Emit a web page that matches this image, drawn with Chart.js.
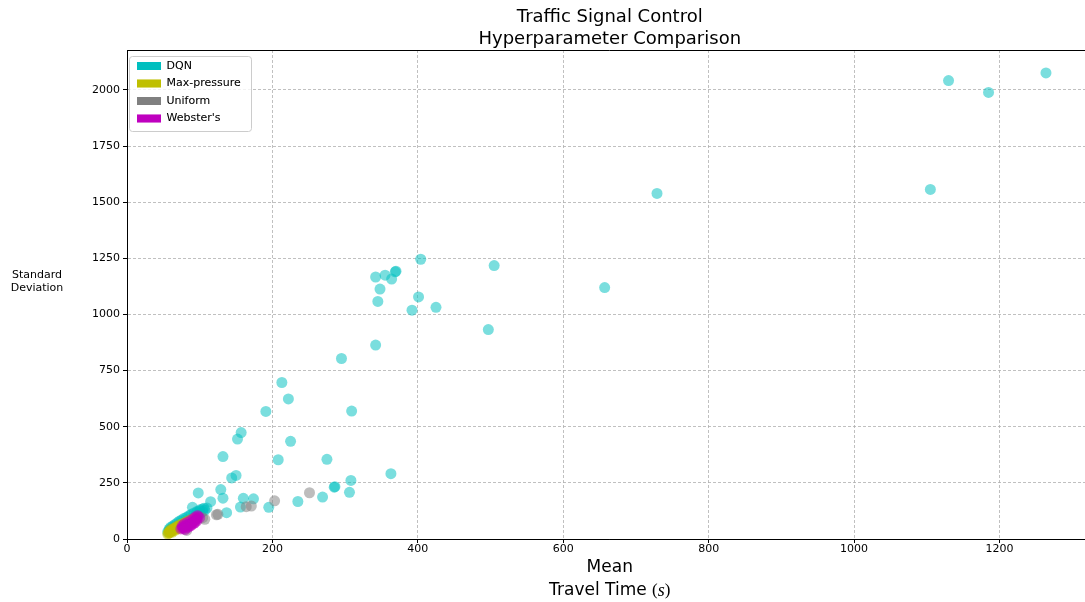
<!DOCTYPE html>
<html>
<head>
<meta charset="utf-8">
<script src="https://cdn.jsdelivr.net/npm/chart.js@4.4.1/dist/chart.umd.min.js"></script>
<style>
  html, body { margin: 0; padding: 0; background: #fff; overflow: hidden; }
  #wrap { width: 1085px; height: 602px; overflow: hidden; }
</style>
</head>
<body>
<div id="wrap"><canvas id="chart" width="1098" height="602"></canvas></div>
<script>
// values (mean travel time, std deviation)
const dqnMean = [1264, 1130, 1185, 1105, 729, 657, 505, 497, 425, 404, 401, 392, 370, 369, 364, 355, 342, 348, 345, 342,
    295, 309, 213, 222, 191, 157, 152, 225, 132, 208, 275, 363, 150, 144, 308, 286, 285, 129, 306, 98,
    132, 160, 174, 269, 235, 115, 90, 156, 195, 137, 106,
    56, 58, 60, 61, 63, 65, 66, 68, 70, 72, 73, 75, 77, 79, 81, 84, 86, 89, 92, 95, 98, 101, 104, 107, 100, 96,
    58, 60, 63, 66, 69, 72, 75, 78, 82, 85, 88, 92, 96, 100, 104, 110];
const dqnStd = [2076, 2042, 1989, 1557, 1539, 1120, 1218, 933, 1032, 1246, 1078, 1019, 1193, 1190, 1158, 1175, 1167, 1113, 1058, 864,
    804, 570, 697, 624, 568, 474, 445, 435, 367, 353, 355, 291, 283, 272, 261, 233, 231, 220, 208, 205,
    182, 181, 179, 187, 167, 166, 141, 142, 141, 117, 137,
    32, 38, 42, 35, 48, 45, 55, 52, 60, 58, 66, 63, 70, 74, 78, 82, 86, 90, 95, 100, 108, 114, 122, 128, 125, 118,
    44, 52, 58, 65, 72, 79, 85, 91, 97, 103, 109, 116, 122, 130, 134, 138];

const maxPressureMean = [56, 57, 58, 59, 60, 62, 63, 65, 67, 68, 70, 72, 74, 76, 78, 80, 82, 85, 88, 90, 93,
    58, 60, 62, 64, 66, 68, 70, 72, 75, 77, 80, 82, 85, 87, 90];
const maxPressureStd = [22, 26, 30, 28, 34, 36, 40, 44, 46, 50, 54, 57, 60, 64, 67, 70, 74, 78, 82, 86, 92,
    34, 42, 30, 48, 38, 56, 45, 63, 52, 70, 60, 78, 68, 86, 78];

const uniformMean = [82, 80, 96, 107, 104, 123, 125, 164, 171, 203, 251];
const uniformStd = [38, 45, 85, 88, 95, 108, 110, 144, 147, 170, 206];

const webstersMean = [74, 76, 77, 78, 80, 81, 82, 84, 85, 86, 88, 89, 90, 92, 93, 95, 96, 98,
    76, 79, 83, 87, 91, 94, 97, 100, 96, 92, 88, 84, 80];
const webstersStd = [45, 50, 55, 48, 58, 52, 62, 60, 66, 57, 70, 65, 75, 80, 72, 88, 92, 100,
    60, 68, 75, 82, 90, 98, 105, 95, 80, 70, 60, 52, 42];

const seriesNames = ['DQN', 'Max-pressure', 'Uniform', "Webster's"];
const seriesColors = ['rgba(0,191,191,0.52)', 'rgba(191,191,0,0.52)', 'rgba(128,128,128,0.52)', 'rgba(191,0,191,0.52)'];
const legendColors = ['#00bfbf', '#bfbf00', '#808080', '#bf00bf'];

const titleLines = ['Traffic Signal Control', 'Hyperparameter Comparison'];
const xLabelTop = 'Mean';
const xLabelBottom = 'Travel Time ';
const xLabelUnit = 's';
const yLabelLines = ['Standard', 'Deviation'];

const xMax = 1328, xStep = 200;
const yMax = 2178, yStep = 250;

function toPoints(xs, ys) {
    return xs.map((x, i) => ({ x: x, y: ys[i] }));
}

const allSeries = [
    toPoints(dqnMean, dqnStd),
    toPoints(maxPressureMean, maxPressureStd),
    toPoints(uniformMean, uniformStd),
    toPoints(webstersMean, webstersStd)
];

Chart.defaults.font.family = '"DejaVu Sans", sans-serif';
Chart.defaults.color = '#000';

const LEGEND_PAD = 6.5;

// legend frame, top spine, axis labels
const extrasPlugin = {
    id: 'extras',
    afterUpdate(chart) {
        const lg = chart.legend;
        const area = chart.chartArea;
        if (!lg) return;
        lg.left = area.left + 3.5;
        lg.top = area.top + 4;
        lg.right = area.right;
        lg.bottom = area.bottom;
    },
    afterDraw(chart) {
        const { ctx, chartArea } = chart;
        const cx = (chartArea.left + chartArea.right) / 2;
        ctx.save();
        ctx.strokeStyle = '#000';
        ctx.lineWidth = 1;
        ctx.beginPath();
        ctx.moveTo(chartArea.left, chartArea.top + 0.5);
        ctx.lineTo(chartArea.right, chartArea.top + 0.5);
        ctx.stroke();

        // y label, horizontal
        ctx.fillStyle = '#000';
        ctx.font = '11px "DejaVu Sans"';
        ctx.textAlign = 'center';
        ctx.textBaseline = 'middle';
        yLabelLines.forEach((t, i) => ctx.fillText(t, 37, 275 + i * 13));

        // x label, two lines with math-style unit
        ctx.font = '17px "DejaVu Sans"';
        ctx.fillText(xLabelTop, cx, 568);
        const fSans = '17px "DejaVu Sans"';
        const fSerif = '17px "Liberation Serif"';
        const fItal = 'italic 18px "Liberation Serif"';
        const parts = [[xLabelBottom, fSans], ['(', fSerif], [xLabelUnit, fItal], [')', fSerif]];
        let total = 0;
        parts.forEach(p => { ctx.font = p[1]; p.push(ctx.measureText(p[0]).width); total += p[2]; });
        let x = cx - total / 2;
        ctx.textAlign = 'left';
        parts.forEach(p => { ctx.font = p[1]; ctx.fillText(p[0], x, 591); x += p[2]; });

        // legend frame, then legend on top of it
        const lg = chart.legend;
        const n = lg.legendItems.length;
        const w = Math.max(...lg.legendHitBoxes.map(h => h.width));
        const x0 = Math.round(lg.left + LEGEND_PAD - 8) + 0.5;
        const y0 = Math.round(lg.top + LEGEND_PAD - 5) + 0.5;
        const x1 = Math.round(lg.left + LEGEND_PAD + w + 10.5) + 0.5;
        const y1 = Math.round(lg.top + LEGEND_PAD + n * 11 + (n - 1) * LEGEND_PAD + 6.5) + 0.5;
        ctx.fillStyle = 'rgba(255,255,255,0.8)';
        ctx.strokeStyle = '#cccccc';
        ctx.beginPath();
        ctx.roundRect(x0, y0, x1 - x0, y1 - y0, 3);
        ctx.fill();
        ctx.stroke();
        ctx.restore();
        lg.draw();
    }
};

const plainTick = v => String(v);

const ctx = document.getElementById('chart');
new Chart(ctx, {
    type: 'scatter',
    data: {
        datasets: allSeries.map((pts, i) => ({
            label: seriesNames[i],
            data: pts,
            backgroundColor: seriesColors[i],
            borderWidth: 0,
            pointRadius: 5.5,
            pointHoverRadius: 5.5,
            order: 4 - i
        }))
    },
    options: {
        responsive: false,
        animation: false,
        layout: { padding: 0 },
        plugins: {
            tooltip: { enabled: false },
            title: {
                display: true,
                text: titleLines,
                fullSize: false,
                color: '#000',
                font: { size: 18, weight: 'normal', lineHeight: 22 / 18 },
                padding: { top: 6, bottom: 0 }
            },
            legend: {
                position: 'chartArea',
                align: 'start',
                labels: {
                    boxWidth: 24,
                    boxHeight: 8,
                    padding: LEGEND_PAD,
                    color: '#000',
                    font: { size: 11 },
                    generateLabels: chart => chart.data.datasets.map((ds, i) => ({
                        text: ds.label,
                        fillStyle: legendColors[i],
                        strokeStyle: legendColors[i],
                        lineWidth: 0,
                        hidden: false,
                        datasetIndex: i,
                        fontColor: '#000'
                    }))
                }
            }
        },
        scales: {
            x: {
                type: 'linear',
                min: 0,
                max: xMax,
                afterBuildTicks: s => { s.ticks = s.ticks.filter(t => t.value % xStep === 0); },
                afterFit: s => { s.height = 63; s.paddingLeft = 0; s.paddingRight = 0; },
                ticks: { stepSize: xStep, padding: 0, font: { size: 11 }, color: '#000', maxRotation: 0, callback: plainTick },
                grid: { color: '#b0b0b0', lineWidth: 0.8, tickColor: '#000', tickLength: 4, tickWidth: 1, tickBorderDash: [] },
                border: { color: '#000', width: 1, dash: [3, 2] }
            },
            y: {
                type: 'linear',
                min: 0,
                max: yMax,
                afterBuildTicks: s => { s.ticks = s.ticks.filter(t => t.value % yStep === 0); },
                afterFit: s => { s.width = 127; },
                ticks: { stepSize: yStep, padding: 3, font: { size: 11 }, color: '#000', callback: plainTick },
                grid: { color: '#b0b0b0', lineWidth: 0.8, tickColor: '#000', tickLength: 4, tickWidth: 1, tickBorderDash: [] },
                border: { color: '#000', width: 1, dash: [3, 2] }
            }
        }
    },
    plugins: [extrasPlugin]
});
</script>
</body>
</html>
